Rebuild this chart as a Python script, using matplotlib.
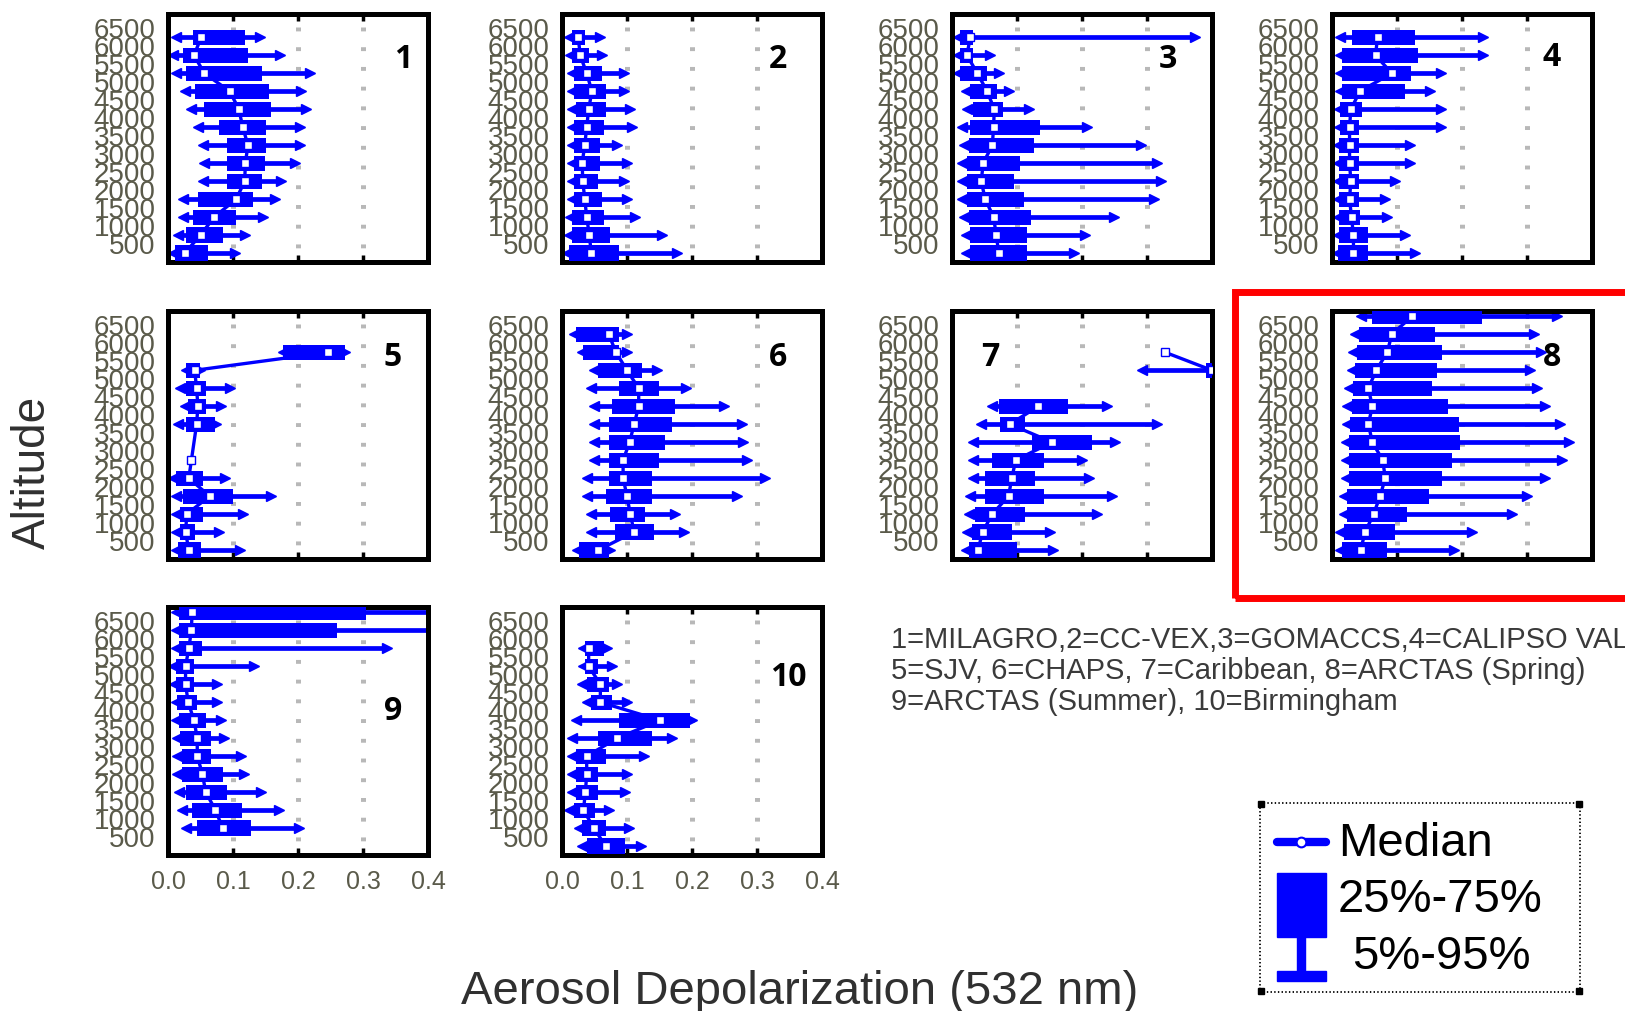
import numpy as np
import matplotlib.pyplot as plt
from matplotlib.patches import Rectangle

plt.rcParams['font.family'] = ['Liberation Sans', 'DejaVu Sans']
plt.rcParams['lines.scale_dashes'] = False

nan = np.nan
W, H = 1625, 1011
BLUE = '#0000ff'

# ---------------------------------------------------------------
# data: altitude bin centres (m) and percentiles of depolarization
# ---------------------------------------------------------------
altitudes = [6750, 6250, 5750, 5250, 4750, 4250, 3750, 3250, 2750, 2250, 1750, 1250, 750, 250]
ytick_vals = list(range(500, 7000, 500))
ytick_labels = [str(v) for v in ytick_vals]
xtick_vals = [0.0, 0.1, 0.2, 0.3, 0.4]
xtick_labels = ['0.0', '0.1', '0.2', '0.3', '0.4']

campaigns = ['MILAGRO', 'CC-VEX', 'GOMACCS', 'CALIPSO VAL', 'SJV', 'CHAPS',
             'Caribbean', 'ARCTAS (Spring)', 'ARCTAS (Summer)', 'Birmingham']

# 1 MILAGRO
p5_1 = [nan, .013, .008, .013, .026, .036, .046, .054, .056, .054, .023, .023, .015, .008]
p25_1 = [nan, .038, .023, .028, .041, .056, .079, .090, .090, .090, .046, .038, .028, .010]
med_1 = [nan, .051, .040, .056, .095, .109, .115, .123, .119, .118, .105, .071, .050, .026]
p75_1 = [nan, .118, .123, .144, .156, .159, .151, .151, .149, .144, .131, .105, .085, .062]
p95_1 = [nan, .141, .172, .218, .205, .213, .203, .203, .195, .174, .164, .146, .118, .103]

# 2 CC-VEX
p5_2 = [nan, .010, .013, .015, .015, .015, .015, .015, .015, .015, .015, .013, .010, .008]
p25_2 = [nan, .015, .015, .018, .018, .021, .018, .018, .018, .018, .018, .015, .015, .010]
med_2 = [nan, .025, .028, .038, .046, .041, .038, .035, .031, .032, .035, .038, .042, .045]
p75_2 = [nan, .035, .041, .062, .067, .067, .064, .059, .059, .056, .062, .064, .074, .087]
p95_2 = [nan, .059, .062, .095, .095, .105, .108, .085, .100, .095, .100, .113, .154, .177]

# 3 GOMACCS
p5_3 = [nan, .010, .010, .010, .021, .023, .015, .018, .015, .015, .015, .018, .021, .021]
p25_3 = [nan, .013, .013, .013, .028, .033, .028, .026, .023, .023, .023, .026, .028, .028]
med_3 = [nan, .028, .023, .039, .054, .065, .064, .062, .048, .045, .051, .064, .068, .072]
p75_3 = [nan, .033, .033, .054, .069, .079, .136, .126, .105, .095, .110, .121, .115, .115]
p95_3 = [nan, .374, .059, .072, .087, .118, .208, .290, .315, .321, .310, .249, .205, .187]

# 4 CALIPSO VAL
p5_4 = [nan, .013, .013, .013, .013, .010, .010, .009, .009, .009, .009, .009, .009, .008]
p25_4 = [nan, .030, .015, .015, .015, .013, .013, .011, .011, .011, .011, .011, .011, .009]
med_4 = [nan, .070, .067, .092, .043, .029, .027, .027, .027, .029, .027, .030, .033, .033]
p75_4 = [nan, .128, .133, .122, .112, .046, .041, .041, .041, .041, .041, .043, .056, .056]
p95_4 = [nan, .232, .232, .168, .151, .168, .168, .120, .120, .097, .082, .084, .112, .128]

# 5 SJV
p5_5 = [nan, nan, .177, .028, .018, .026, .015, nan, nan, .008, .013, .013, .013, .013]
p25_5 = [nan, nan, .177, .028, .028, .031, .028, nan, .036, .013, .023, .018, .018, .015]
med_5 = [nan, nan, .246, .041, .044, .046, .044, .040, .036, .032, .064, .029, .027, .032]
p75_5 = [nan, nan, .272, .049, .059, .059, .072, nan, .036, .054, .100, .054, .041, .051]
p95_5 = [nan, nan, .272, .049, .095, .082, .074, nan, nan, .087, .159, .115, .079, .110]

# 6 CHAPS
p5_6 = [nan, .018, .031, .049, .045, .049, .049, .049, .049, .038, .038, .044, .044, .023]
p25_6 = [nan, .021, .033, .056, .087, .077, .072, .072, .072, .072, .067, .074, .082, .026]
med_6 = [nan, .072, .083, .100, .118, .118, .111, .104, .094, .094, .100, .105, .111, .056]
p75_6 = [nan, .087, .087, .123, .149, .174, .169, .159, .149, .138, .138, .128, .141, .072]
p95_6 = [nan, .100, .100, .146, .190, .249, .277, .279, .285, .312, .269, .174, .187, .074]

# 7 Caribbean
p5_7 = [nan, nan, nan, .292, nan, .062, .044, .033, .033, .033, .028, .026, .023, .021]
p25_7 = [nan, nan, .328, .390, nan, .072, .074, .123, .062, .051, .051, .036, .031, .026]
med_7 = [nan, nan, .328, .400, nan, .133, .089, .154, .098, .092, .087, .062, .047, .040]
p75_7 = [nan, nan, .328, .450, nan, .179, .113, .215, .141, .128, .141, .113, .092, .100]
p95_7 = [nan, nan, nan, .500, nan, .238, .315, .251, .200, .210, .246, .223, .151, .156]

# 8 ARCTAS (Spring)
p5_8 = [.044, .036, .033, .031, .026, .023, .023, .021, .021, .021, .018, .018, .013, .013]
p25_8 = [.062, .041, .038, .036, .033, .031, .028, .026, .026, .026, .023, .023, .018, .015]
med_8 = [.123, .092, .085, .068, .056, .062, .056, .062, .078, .082, .074, .064, .051, .044]
p75_8 = [.231, .159, .169, .162, .154, .179, .195, .197, .185, .169, .149, .115, .097, .085]
p95_8 = [.346, .310, .321, .305, .315, .328, .351, .364, .354, .328, .300, .277, .215, .187]

# 9 ARCTAS (Summer)
p5_9 = [.012, .012, .012, .008, .009, .012, .012, .014, .014, .014, .017, .022, .027, nan]
p25_9 = [.017, .017, .017, .012, .012, .014, .017, .019, .022, .022, .027, .037, .045, nan]
med_9 = [.037, .036, .032, .027, .027, .031, .040, .045, .045, .053, .058, .073, .084, nan]
p75_9 = [.304, .260, .053, .040, .040, .045, .058, .066, .066, .084, .091, .114, .127, nan]
p95_9 = [.450, .450, .337, .132, .076, .076, .081, .086, .112, .117, .143, .171, .202, nan]

# 10 Birmingham
p5_10 = [nan, nan, .033, .033, .031, .038, .021, .015, .015, .015, .015, .010, .026, .031]
p25_10 = [nan, nan, .036, .036, .038, .044, .087, .056, .021, .021, .021, .018, .031, .038]
med_10 = [nan, nan, .041, .041, .059, .059, .151, .085, .038, .038, .036, .033, .049, .067]
p75_10 = [nan, nan, .064, .056, .072, .077, .197, .138, .067, .056, .056, .051, .067, .097]
p95_10 = [nan, nan, .069, .077, .085, .100, .200, .169, .126, .100, .097, .072, .103, .121]

panels = [
    (p5_1, p25_1, med_1, p75_1, p95_1),
    (p5_2, p25_2, med_2, p75_2, p95_2),
    (p5_3, p25_3, med_3, p75_3, p95_3),
    (p5_4, p25_4, med_4, p75_4, p95_4),
    (p5_5, p25_5, med_5, p75_5, p95_5),
    (p5_6, p25_6, med_6, p75_6, p95_6),
    (p5_7, p25_7, med_7, p75_7, p95_7),
    (p5_8, p25_8, med_8, p75_8, p95_8),
    (p5_9, p25_9, med_9, p75_9, p95_9),
    (p5_10, p25_10, med_10, p75_10, p95_10),
]

# panel frames in pixels (left, top)
col_left = [168, 562, 952, 1332]
row_top = [14, 311, 607]
panel_w, panel_h = 260, 248

# panel number positions (pixels)
num_pos = [(403, 60), (778, 60), (1168, 60), (1552, 57), (393, 358),
           (778, 358), (990, 357), (1552, 357), (393, 712), (788, 677)]


def draw_panel(ax, p5, p25, med, p75, p95, bottom_row):
    alt = np.array(altitudes, float)
    p5, p25, med, p75, p95 = (np.array(a, float) for a in (p5, p25, med, p75, p95))

    for x in (0.1, 0.2, 0.3):
        ax.axvline(x, color='#b8b8b8', lw=3.6, ls=(4, (2.8, 11.4)), zorder=0.5)

    # line through the medians
    ax.plot(med, alt, color=BLUE, lw=2.4, zorder=2)

    ok = ~np.isnan(p5)
    ax.hlines(alt[ok], p5[ok], p95[ok], color=BLUE, lw=3.4, zorder=2)
    ax.plot(p5[ok], alt[ok], marker='<', ls='none', color=BLUE, ms=6.5, zorder=2)
    ax.plot(p95[ok], alt[ok], marker='>', ls='none', color=BLUE, ms=6.5, zorder=2)

    okb = ~np.isnan(p25)
    ax.barh(alt[okb], p75[okb] - p25[okb], left=p25[okb], height=420,
            color=BLUE, zorder=3)
    ax.plot(med[okb], alt[okb], 's', mfc='white', mec=BLUE, mew=1, ms=6, zorder=4)

    ax.set_xlim(0, 0.4)
    ax.set_ylim(0, 6900)
    ax.set_xticks(xtick_vals)
    ax.set_xticklabels(xtick_labels)
    ax.set_yticks(ytick_vals)
    ax.set_yticklabels(ytick_labels)
    ax.set_yticks(list(range(500, 7000, 1000)), minor=True)
    ax.tick_params(axis='y', which='major', length=0, pad=9, labelsize=20,
                   labelcolor='#5a5a4a')
    ax.tick_params(axis='y', which='minor', direction='in', length=5, width=2.5,
                   left=True, right=True)
    ax.tick_params(axis='x', which='major', direction='in', length=5, width=2.5,
                   top=True, bottom=True, labelsize=18, pad=11,
                   labelcolor='#5a5a4a', labelbottom=bottom_row)
    for s in ax.spines.values():
        s.set_linewidth(3.6)
        s.set_color('black')


fig = plt.figure(figsize=(W / 100, H / 100), dpi=100)

for i, data in enumerate(panels):
    r, c = divmod(i, 4)
    left, top = col_left[c], row_top[r]
    ax = fig.add_axes([left / W, 1 - (top + panel_h) / H, panel_w / W, panel_h / H])
    draw_panel(ax, *data, bottom_row=(r == 2))
    nx, ny = num_pos[i]
    fig.text(nx / W, 1 - ny / H, str(i + 1), ha='center', va='center',
             fontsize=23, fontweight='bold', family=['Open Sans', 'DejaVu Sans'],
             color='black', zorder=10)

# red highlight round panel 8
fig.add_artist(Rectangle((1235 / W, 1 - 598 / H), (1700 - 1235) / W, (598 - 292) / H,
                         transform=fig.transFigure, fill=False, ec='#ff0000', lw=5))

# axis titles
fig.text(33 / W, 1 - 472 / H, 'Altitude', rotation=90, ha='center', va='center',
         fontsize=33, color='#303030')
fig.text(800 / W, 1 - 992 / H, 'Aerosol Depolarization (532 nm)', ha='center',
         va='center', fontsize=34, color='#303030')

# campaign key
key_lines = [
    '1=MILAGRO,2=CC-VEX,3=GOMACCS,4=CALIPSO VAL',
    '5=SJV, 6=CHAPS, 7=Caribbean, 8=ARCTAS (Spring)',
    '9=ARCTAS (Summer), 10=Birmingham',
]
for line, y in zip(key_lines, [640, 671, 702]):
    fig.text(891 / W, 1 - y / H, line, ha='left', va='center', fontsize=21,
             color='#3a3a3a')

# legend box
lg = fig.add_axes([1260 / W, 1 - 992 / H, 320 / W, 189 / H])
lg.set_xlim(0, 320)
lg.set_ylim(189, 0)
lg.axis('off')
lg.add_patch(Rectangle((0, 0), 320, 189, fill=False, ec='black', lw=1.3, ls=':',
                       clip_on=False))
lg.plot([1, 319, 1, 319], [1, 1, 188, 188], 's', color='black', ms=4, clip_on=False)
lg.plot([17, 66], [39, 39], color=BLUE, lw=6, solid_capstyle='round')
lg.plot([41], [39], 'o', mfc='white', mec=BLUE, mew=1.5, ms=7)
lg.add_patch(Rectangle((17, 70), 49, 64, color=BLUE))
lg.add_patch(Rectangle((37, 134), 8, 36, color=BLUE))
lg.add_patch(Rectangle((17, 168), 49, 10, color=BLUE))
lg.text(78, 41, 'Median', ha='left', va='center', fontsize=34, color='black')
lg.text(78, 97, '25%-75%', ha='left', va='center', fontsize=34, color='black')
lg.text(92, 154, '5%-95%', ha='left', va='center', fontsize=34, color='black')

fig.savefig('out.png', dpi=100)
